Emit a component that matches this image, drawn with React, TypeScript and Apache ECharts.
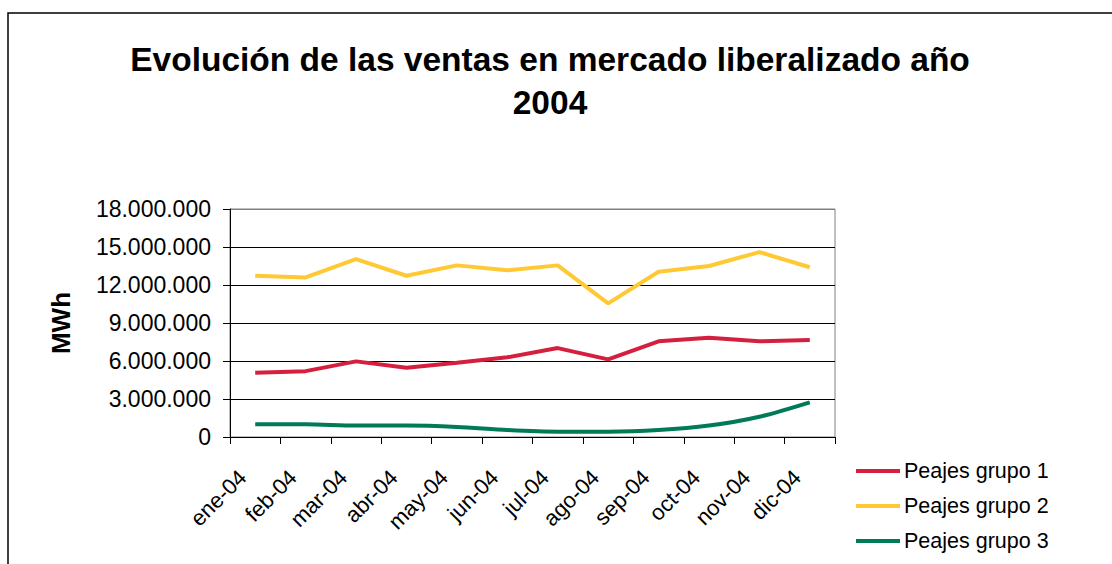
import React, { useEffect, useRef } from "react";
import * as echarts from "echarts";

const categories = ["ene-04", "feb-04", "mar-04", "abr-04", "may-04", "jun-04", "jul-04", "ago-04", "sep-04", "oct-04", "nov-04", "dic-04"];
const grupo1 = [5080000, 5200000, 5970000, 5470000, 5870000, 6290000, 7020000, 6130000, 7550000, 7840000, 7550000, 7660000];
const grupo2 = [12730000, 12600000, 14050000, 12730000, 13550000, 13160000, 13550000, 10550000, 13050000, 13500000, 14600000, 13400000];
const grupo3 = [1000000, 1000000, 900000, 900000, 790000, 550000, 420000, 420000, 550000, 900000, 1600000, 2740000];
const seriesNames = ["Peajes grupo 1", "Peajes grupo 2", "Peajes grupo 3"];
const titleLines = ["Evolución de las ventas en mercado liberalizado año", "2004"];
const yAxisName = "MWh";

const FONT = "'Liberation Sans', Arial, Helvetica, sans-serif";

function fmt(v: number): string {
  return String(v).replace(/\B(?=(\d{3})+(?!\d))/g, ".");
}

export default function App() {
  const ref = useRef<HTMLDivElement>(null);
  useEffect(() => {
    if (!ref.current) return;
    const chart = echarts.init(ref.current, null, { renderer: "svg" });
    chart.setOption({
      animation: false,
      backgroundColor: "#ffffff",
      textStyle: { fontFamily: FONT, color: "#000" },
      graphic: [
        {
          type: "rect",
          shape: { x: 8, y: 13, width: 1200, height: 700 },
          style: { fill: "none", stroke: "#000", lineWidth: 1.5 },
          silent: true,
        },
        {
          type: "text",
          x: 550,
          y: 59,
          style: {
            text: titleLines[0],
            textAlign: "center",
            textVerticalAlign: "middle",
            font: `bold 33.5px ${FONT}`,
            fill: "#000",
          },
        },
        {
          type: "text",
          x: 550,
          y: 102,
          style: {
            text: titleLines[1],
            textAlign: "center",
            textVerticalAlign: "middle",
            font: `bold 33.5px ${FONT}`,
            fill: "#000",
          },
        },
        {
          type: "text",
          x: 61,
          y: 323,
          rotation: Math.PI / 2,
          style: {
            text: yAxisName,
            textAlign: "center",
            textVerticalAlign: "middle",
            font: `bold 26px ${FONT}`,
            fill: "#000",
          },
        },
      ],
      grid: {
        left: 230,
        right: 277,
        top: 209,
        bottom: 127,
        show: true,
        borderColor: "#808080",
        borderWidth: 1,
        backgroundColor: "transparent",
      },
      legend: {
        orient: "vertical",
        left: 856,
        top: 460,
        icon: "rect",
        itemWidth: 44,
        itemHeight: 4,
        itemGap: 13,
        padding: 0,
        textStyle: { fontSize: 21.5, fontFamily: FONT, color: "#000", padding: [0, 0, 0, -1] },
        data: seriesNames,
      },
      xAxis: {
        type: "category",
        data: categories,
        boundaryGap: true,
        axisLine: { lineStyle: { color: "#000", width: 1 } },
        axisTick: { show: true, length: 7, lineStyle: { color: "#000" } },
        axisLabel: {
          rotate: 45,
          fontSize: 22,
          color: "#000",
          fontFamily: FONT,
          margin: 24,
          interval: 0,
          padding: [0, 18, 0, 0],
        },
        splitLine: { show: false },
      },
      yAxis: {
        type: "value",
        min: 0,
        max: 18000000,
        interval: 3000000,
        axisLine: { show: true, lineStyle: { color: "#000", width: 1 } },
        axisTick: { show: true, length: 7, lineStyle: { color: "#000" } },
        axisLabel: { fontSize: 23, color: "#000", fontFamily: FONT, margin: 19, formatter: (v: number) => fmt(v) },
        splitLine: { show: true, lineStyle: { color: ["#000", "#000", "#000", "#000", "#000", "#000", "#808080"], width: 1 } },
      },
      series: [
        {
          name: seriesNames[0],
          type: "line",
          data: grupo1,
          symbol: "none",
          lineStyle: { color: "#D51F3E", width: 4 },
          itemStyle: { color: "#D51F3E" },
        },
        {
          name: seriesNames[1],
          type: "line",
          data: grupo2,
          symbol: "none",
          lineStyle: { color: "#FFC933", width: 4 },
          itemStyle: { color: "#FFC933" },
        },
        {
          name: seriesNames[2],
          type: "line",
          data: grupo3,
          symbol: "none",
          smooth: 0.3,
          lineStyle: { color: "#007A57", width: 4 },
          itemStyle: { color: "#007A57" },
        },
      ],
    });
    return () => chart.dispose();
  }, []);
  return <div ref={ref} style={{ position: "absolute", left: 0, top: 0, width: 1112, height: 564 }} />;
}
